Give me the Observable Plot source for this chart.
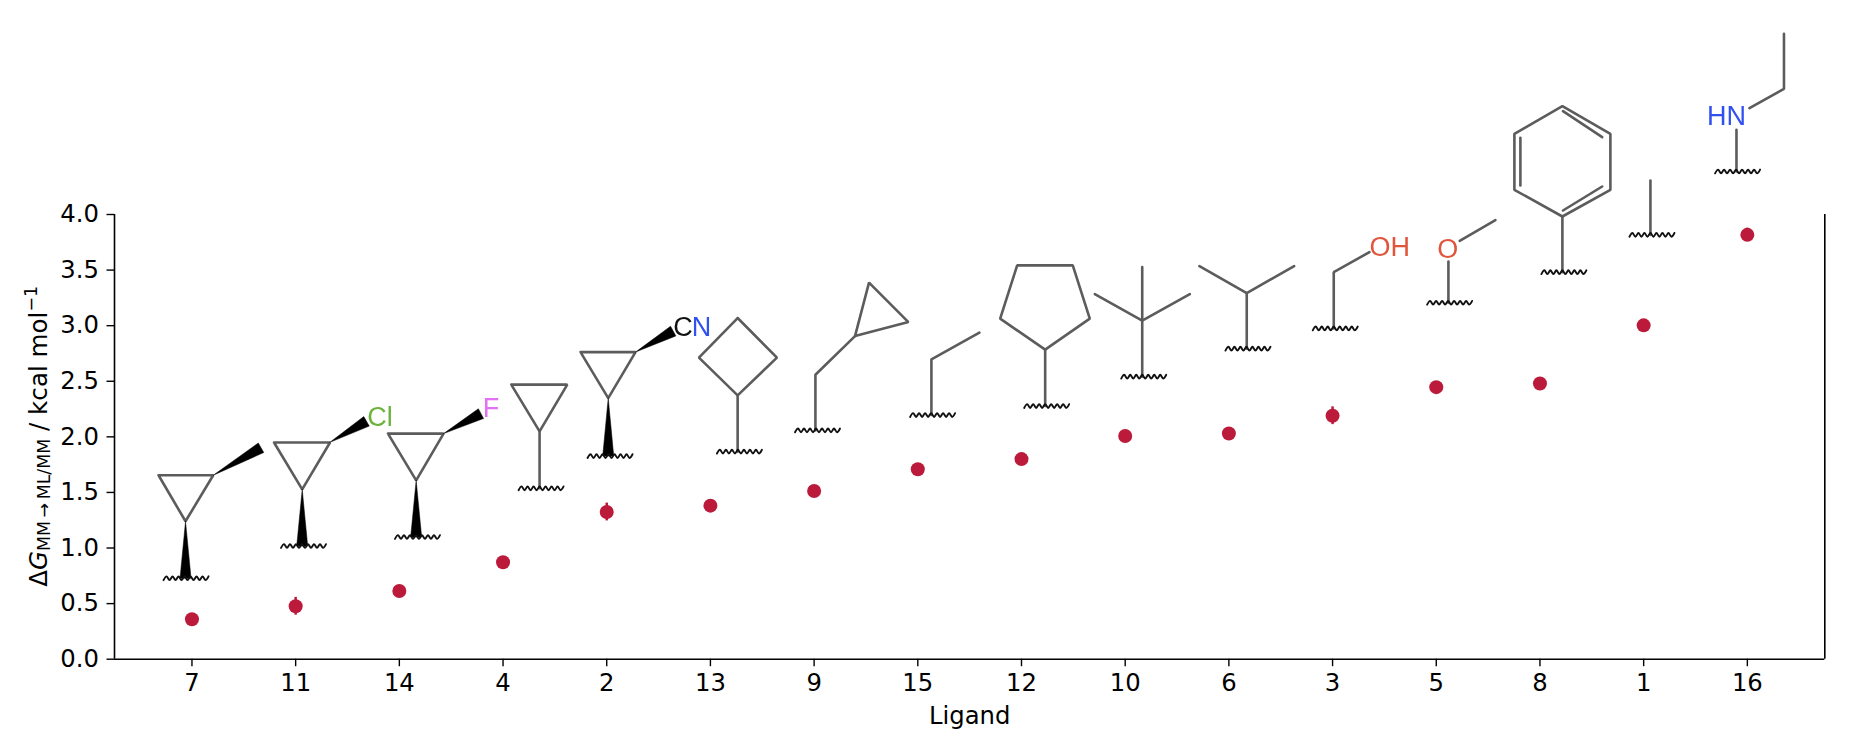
<!DOCTYPE html>
<html>
<head>
<meta charset="utf-8">
<script src="https://cdn.jsdelivr.net/npm/d3@7"></script>
<script src="https://cdn.jsdelivr.net/npm/@observablehq/plot@0.6"></script>
<style>html,body{margin:0;padding:0;background:#fff}svg{display:block}</style>
</head>
<body>
<div id="chart"></div>
<script>
// Chart values
const ligands = ["7","11","14","4","2","13","9","15","12","10","6","3","5","8","1","16"];
const deltaG = [0.36,0.476,0.614,0.872,1.324,1.381,1.513,1.708,1.80,2.007,2.03,2.19,2.447,2.48,3.003,3.817];
const deltaGErr = [0.03,0.08,0.03,0.03,0.08,0.03,0.03,0.03,0.05,0.03,0.03,0.08,0.03,0.03,0.03,0.06];
const yTicks = [0,0.5,1,1.5,2,2.5,3,3.5,4];

// Where each ligand's sketch sits on the chart (ligand position, kcal/mol), at its wavy attachment line
const sketchX = [-0.062,1.071,2.170,3.362,4.027,5.275,6.028,7.138,8.238,9.174,10.179,11.021,12.124,13.226,14.075,14.901];
const sketchY = [0.728,1.018,1.099,1.537,1.827,1.867,2.058,2.196,2.277,2.541,2.793,2.975,3.206,3.481,3.817,4.387];

// Skeletal formula drawings, in drawing units relative to the wavy line centre
const sketches = {
  "7":  {bonds:[[[-27,-103],[27.7,-103],[0,-57],[-27,-103]]], wedges:[[0,-57,0,0,11],[27.7,-103,75.5,-130.5,11]]},
  "11": {bonds:[[[-29,-103.5],[27,-103.5],[-0.8,-56.7],[-29,-103.5]]], wedges:[[-0.8,-56.7,-0.8,0,11],[26.9,-103.7,63.5,-124.7,11]], atoms:[["Cl",77,-129,"#6cb33e"]]},
  "14": {bonds:[[[-29,-103.4],[26.6,-103.4],[-0.8,-56.7],[-29,-103.4]]], wedges:[[-0.8,-56.7,-0.8,0,11],[26.6,-103.4,64,-123.4,11]], atoms:[["F",74,-128.4,"#e271f5"]]},
  "4":  {bonds:[[[-29.3,-103.7],[26.7,-103.7],[-1,-57],[-29.3,-103.7]],[[-1,-57],[-1,0]]]},
  "2":  {bonds:[[[-29,-104],[26,-104],[-1.3,-58],[-29,-104]]], wedges:[[-1.3,-58,-1.3,0,11],[26,-104,63.7,-125,11]], atoms:[["C",73.5,-129,"#111111"],["N",92,-129,"#3050f0"]]},
  "13": {bonds:[[[-1.3,-133.6],[38,-94],[-1.3,-56.3],[-40,-94],[-1.3,-133.6]],[[-1.3,-56.3],[-1.3,0]]]},
  "9":  {bonds:[[[-1.6,0],[-1.6,-55.7],[38,-94.3]],[[38,-94.3],[52,-147.7],[91.4,-108.3],[38,-94.3]]]},
  "15": {bonds:[[[-0.7,0],[-0.7,-55.7],[47.3,-82.4]]]},
  "12": {bonds:[[[-1,0],[-1,-56.4]],[[-1,-56.4],[43.6,-87.4],[26.6,-140.7],[-29,-140.7],[-46,-87.4],[-1,-56.4]]]},
  "10": {bonds:[[[-1,0],[-1,-109.6]],[[-48.4,-82.6],[-1,-56],[46.6,-82.6]]]},
  "6":  {bonds:[[[-0.7,0],[-0.7,-55.6]],[[-48,-82.6],[-0.7,-55.6],[46.7,-82.6]]]},
  "3":  {bonds:[[[-1,0],[-1,-56.3],[34.7,-76.3]]], atoms:[["OH",55,-81,"#e0563c"]]},
  "5":  {bonds:[[[-0.7,0],[-0.7,-41.3]],[[10.6,-62],[46.3,-82.6]]], atoms:[["O",-1.4,-53.3,"#e0563c"]]},
  "8":  {bonds:[[[-1,0],[-1,-55.7]],[[-1,-55.7],[47,-82.4],[47,-138.4],[-1,-166],[-49,-138.4],[-49,-82.4],[-1,-55.7]],[[-43,-134.4],[-43,-86.7]],[[-0.4,-161],[38.8,-135]],[[-0.4,-61.7],[38.8,-85.7]]]},
  "1":  {bonds:[[[-1,0],[-1,-54.3]]]},
  "16": {bonds:[[[-0.6,0],[-0.6,-41.7]],[[12.4,-63.3],[46.9,-82.7],[46.9,-137.7]]], atoms:[["HN",-10.6,-55,"#3050f0"]]}
};
const wavyLine = [[-22,1.9],[-19,-1.9],[-16,1.9],[-13,-1.9],[-10,1.9],[-7,-1.9],[-4,1.9],[-1,-1.9],[2,1.9],[5,-1.9],[8,1.9],[11,-1.9],[14,1.9],[17,-1.9],[20,1.9],[23,-1.9]];

// Frame geometry
const W = 1849, H = 738, mL = 114, mR = 24.7, mT = 214, mB = 79.3;
const xMin = -0.747, xMax = 15.747, yMax = 4;
const unitX = (W - mL - mR) / (xMax - xMin);
const unitY = (H - mT - mB) / yMax;

const ink = "#000000", dotColor = "#bc1a3b", bondColor = "#5c5c5c";
const bonds = [], wedges = [], waves = [], atoms = [];
ligands.forEach((name, i) => {
  const s = sketches[name];
  const at = ([dx, dy]) => ({x: sketchX[i] + dx / unitX, y: sketchY[i] - dy / unitY});
  wavyLine.forEach(p => waves.push({...at(p), z: name}));
  (s.bonds || []).forEach((line, k) => line.forEach(p => bonds.push({...at(p), z: name + "-" + k})));
  (s.wedges || []).forEach((w, k) => {
    const [x0, y0, x1, y1, wd] = w;
    const len = Math.hypot(x1 - x0, y1 - y0), nx = -(y1 - y0) / len * wd / 2, ny = (x1 - x0) / len * wd / 2;
    [[x0, y0], [x1 + nx, y1 + ny], [x1 - nx, y1 - ny], [x0, y0]]
      .forEach(p => wedges.push({...at(p), z: name + "-" + k}));
  });
  (s.atoms || []).forEach(([t, dx, dy, c]) => atoms.push({...at([dx, dy]), t, c}));
});

const rows = ligands.map((l, i) => ({i, v: deltaG[i], e: deltaGErr[i]}));
const soft = "blur(0.5px)";

const chart = Plot.plot({
  width: W, height: H,
  marginLeft: mL, marginRight: mR, marginTop: mT, marginBottom: mB,
  style: {fontFamily: "'DejaVu Sans'", fontSize: "24.3px", background: "#fff", color: "#000", overflow: "visible"},
  x: {domain: [xMin, xMax], label: null},
  y: {domain: [0, yMax], label: null},
  marks: [
    Plot.ruleX([xMin], {stroke: ink, strokeWidth: 1.6}),
    Plot.ruleX([xMax], {stroke: ink, strokeWidth: 1.6}),
    Plot.ruleY([0], {stroke: ink, strokeWidth: 1.6}),
    Plot.axisY({ticks: yTicks, tickFormat: d3.format(".1f"), tickSize: 7.5, tickPadding: 8, strokeWidth: 1.4, label: null}),
    Plot.axisX({ticks: ligands.map((_, i) => i), tickFormat: i => ligands[i], tickSize: 7.5, tickPadding: 7, strokeWidth: 1.4, label: "Ligand", labelAnchor: "center", labelArrow: "none", labelOffset: 65}),
    Plot.line(bonds, {x: "x", y: "y", z: "z", stroke: bondColor, strokeWidth: 2.6, strokeLinejoin: "miter", imageFilter: soft}),
    Plot.line(wedges, {x: "x", y: "y", z: "z", fill: "#000", stroke: "#000", strokeWidth: 0.5, imageFilter: soft}),
    Plot.line(waves, {x: "x", y: "y", z: "z", stroke: "#111", strokeWidth: 1.9, curve: "catmull-rom", imageFilter: soft}),
    Plot.text(atoms, {x: "x", y: "y", text: "t", fill: "c", fontFamily: "'Liberation Sans'", fontSize: 27, textAnchor: "middle", lineAnchor: "middle", imageFilter: soft}),
    Plot.ruleX(rows, {x: "i", y1: d => d.v - d.e, y2: d => d.v + d.e, stroke: dotColor, strokeWidth: 2.5}),
    Plot.dot(rows, {x: "i", y: "v", r: 7, fill: dotColor, stroke: "none"})
  ]
});

// y-axis title with sub- and superscripts as real text
const yTitle = d3.select(chart).append("text")
  .attr("transform", `translate(46.5,${(H - mB + mT) / 2}) rotate(-90)`)
  .attr("text-anchor", "middle")
  .attr("fill", "#000")
  .attr("font-size", "24.6px");
yTitle.append("tspan").text("Δ");
yTitle.append("tspan").attr("font-style", "italic").text("G");
yTitle.append("tspan").attr("font-size", "17.4px").attr("dy", 3.8).text("MM\u2009→\u2009ML/MM");
yTitle.append("tspan").attr("dy", -3.8).text(" / kcal mol");
yTitle.append("tspan").attr("font-size", "17.4px").attr("dy", -10).text("−1");

document.getElementById("chart").appendChild(chart);
</script>
</body>
</html>
